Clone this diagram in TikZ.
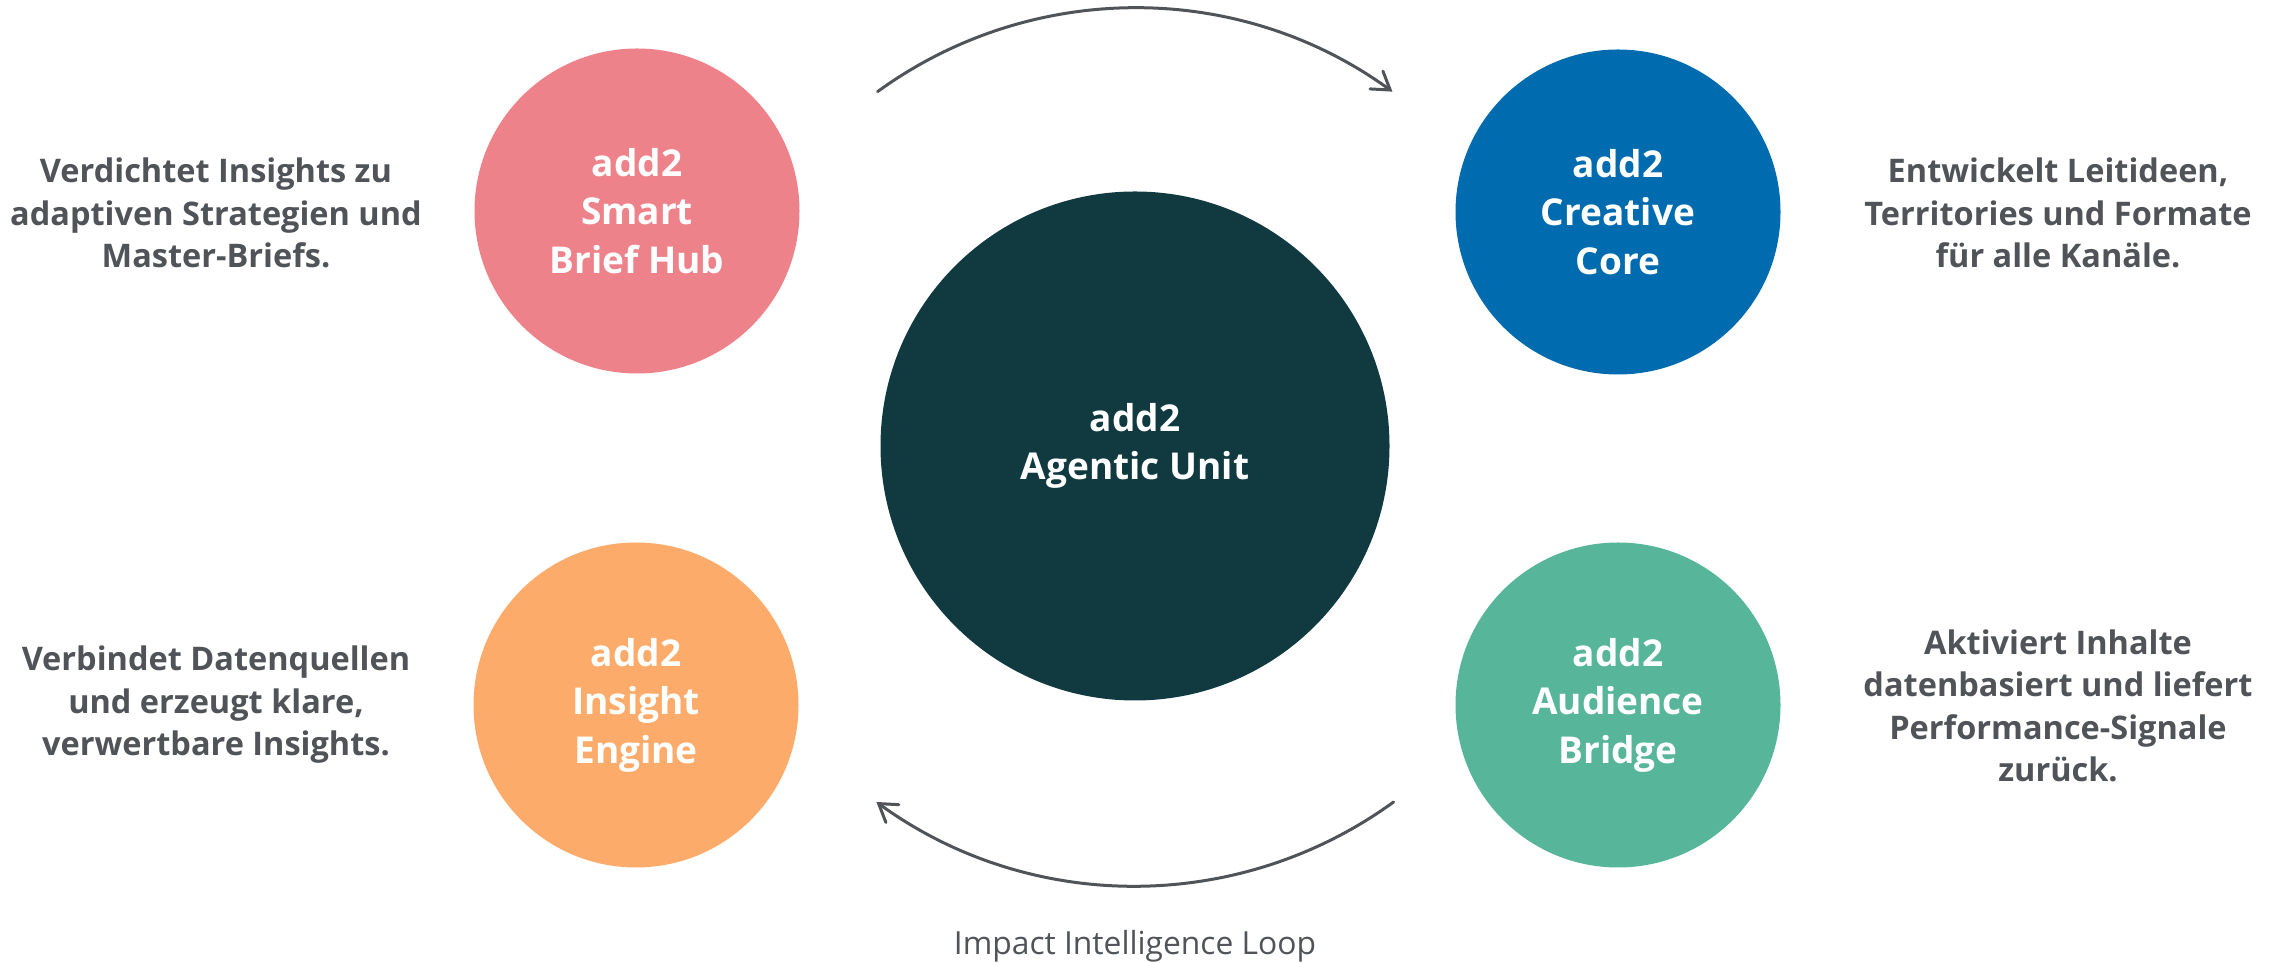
\documentclass[tikz,border=0pt]{standalone}
\usepackage{fontspec}
\setmainfont{Open Sans}
\usetikzlibrary{arrows.meta}
\definecolor{hubpink}{RGB}{238,130,139}
\definecolor{coreblue}{RGB}{0,107,174}
\definecolor{unitteal}{RGB}{16,58,64}
\definecolor{engineorange}{RGB}{253,171,107}
\definecolor{bridgegreen}{RGB}{87,181,154}
\definecolor{txtgray}{RGB}{80,83,87}
\tikzset{
  modul/.style={circle, inner sep=0pt, minimum size=325pt, text=white, align=center,
    font=\bfseries\fontsize{37}{48.5}\selectfont},
  note/.style={text=txtgray, align=center, font=\bfseries\fontsize{32.5}{42.5}\selectfont},
  looparrow/.style={draw=txtgray, line width=3pt, line cap=round,
    -{Straight Barb[length=17pt,width=22pt,line cap=round]}}
}
\begin{document}
\begin{tikzpicture}[x=1pt,y=1pt]
  \useasboundingbox (0,0) rectangle (2279,963);
  % centre
  \node[modul, fill=unitteal, minimum size=509pt] (unit) at (1135,517) {add2\\Agentic Unit};
  % four modules
  \foreach \n/\x/\y/\c/\t in {hub/637/752/hubpink/{add2\\Smart\\Brief Hub},
      core/1618/751/coreblue/{add2\\Creative\\Core},
      engine/636/258/engineorange/{add2\\Insight\\Engine},
      bridge/1618/258/bridgegreen/{add2\\Audience\\Bridge}}
  {
    \node[modul, fill=\c] (\n) at (\x,\y) {\t};
  }
  % notes
  \node[note] (hubnote) at (216,750) {Verdichtet Insights zu\\adaptiven Strategien und\\Master-Briefs.};
  \node[note] (corenote) at (2058,750) {Entwickelt Leitideen,\\Territories und Formate\\für alle Kanäle.};
  \node[note] (enginenote) at (216,258) {Verbindet Datenquellen\\und erzeugt klare,\\verwertbare Insights.};
  \node[note] (bridgenote) at (2058,257) {Aktiviert Inhalte\\datenbasiert und liefert\\Performance-Signale\\zurück.};
  % loop
  \draw[looparrow] ([shift={(126:438)}]unit.center) arc[start angle=126, end angle=54, radius=438];
  \draw[looparrow] ([shift={(-54:440)}]unit.center) arc[start angle=-54, end angle=-126, radius=440];
  \node[anchor=base, text=txtgray, font=\fontsize{31.8}{38}\selectfont] (looplabel) at (1135,8) {Impact Intelligence Loop};
\end{tikzpicture}
\end{document}
